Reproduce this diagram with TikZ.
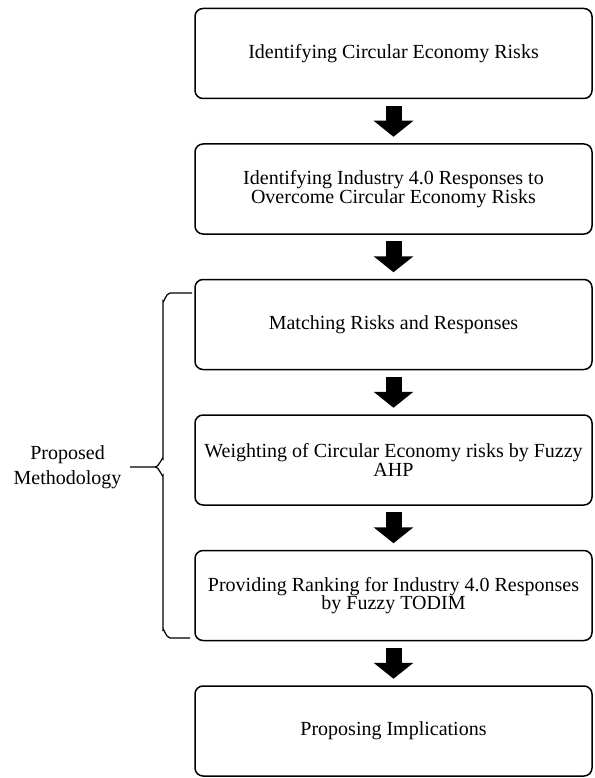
\documentclass[tikz,border=0pt]{standalone}
\usepackage{fontspec}
\setmainfont{Liberation Serif}
\usetikzlibrary{positioning,arrows.meta}

\begin{document}
\begin{tikzpicture}[x=1pt,y=-1pt,
      box/.style={draw, line width=1.5pt, rounded corners=8pt, minimum width=397pt,
        minimum height=90pt, align=center, font=\fontsize{20pt}{18.5pt}\selectfont},
      blk/.style={line width=16pt, -{Triangle[length=16pt,width=39pt]}},
      node distance=44pt]
      \useasboundingbox (0,0) rectangle (594,778);
      \node [box] (a) at (393.5,53.5) {Identifying Circular Economy Risks};
      \node [box, below=of a] (b) {Identifying Industry 4.0 Responses to\\Overcome Circular Economy Risks};
      \node [box, below=of b] (c) {Matching Risks and Responses};
      \node [box, below=of c] (d) {Weighting of Circular Economy risks by Fuzzy\\AHP};
      \node [box, below=of d] (e) {Providing Ranking for Industry 4.0 Responses\\by Fuzzy TODIM};
      \node [box, below=of e] (f) {Proposing Implications};
      \foreach \p/\q in {a/b,b/c,c/d,d/e,e/f}
        \draw [blk] ([yshift=-6.5pt]\p.south) -- ([yshift=6.5pt]\q.north);
      \coordinate (t) at (192,293);
      \coordinate (u) at (190,638);
      \coordinate (m) at (130,467);
      \draw [line width=1.2pt] (t) -- (170,293) to [out=180,in=-90] (163,301) -- (163,459)
        to [out=90,in=0] (155,467) -- (m);
      \draw [line width=1.2pt] (155,467) to [out=0,in=-90] (163,475) -- (163,630)
        to [out=90,in=180] (170,638) -- (u);
      \node [left=5pt of m, align=center, font=\fontsize{20pt}{25pt}\selectfont] (l) {Proposed\\Methodology};
    \end{tikzpicture}
\end{document}
